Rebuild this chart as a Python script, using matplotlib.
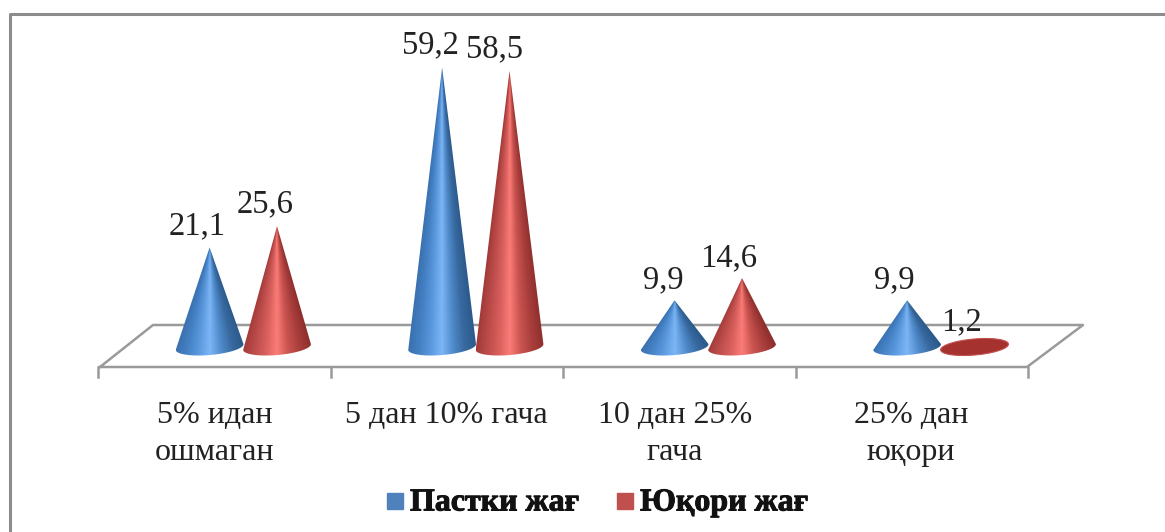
import numpy as np
import matplotlib
matplotlib.use("Agg")
import matplotlib.pyplot as plt
import matplotlib.patheffects as pe
from matplotlib.colors import LinearSegmentedColormap
from matplotlib.patches import Polygon, Rectangle

categories = ["5% идан\nошмаган", "5 дан 10% гача", "10 дан 25%\nгача", "25% дан\nюқори"]
series_names = ["Пастки жағ", "Юқори жағ"]
lower_side = [21.1, 59.2, 9.9, 9.9]
upper_side = [25.6, 58.5, 14.6, 1.2]
legend_colors = ["#4f81bd", "#c0504d"]

plt.rcParams["font.family"] = ["Liberation Serif", "DejaVu Serif"]

# one category = 232.5 px, one percent = 4.72 px
PX_X = 232.5
PX_Y = 4.72
X0 = 98
Y0 = 347
W, H = 1165, 532


def px(x, y):
    return (x - X0) / PX_X, (Y0 - y) / PX_Y


blue_cm = LinearSegmentedColormap.from_list("b", ["#3a70ad", "#4480c4", "#5a97dc", "#7db6f6", "#4f8aca", "#38699f", "#2c5a8c"])
red_cm = LinearSegmentedColormap.from_list("r", ["#a23a38", "#bb4c4a", "#d85f5c", "#fb7c78", "#c9534f", "#a83e3c", "#8f2f2d"])


def cone(ax, cx, val, cmap, half_w=34, half_h=8, tilt=-5):
    # rim built in pixels round the base, then put on the data scales
    a = np.radians(tilt)
    flat = val < 3
    t = np.linspace(0, 2 * np.pi if flat else np.pi, 120)
    if flat:
        half_h = 8
    ex = half_w * np.cos(t)
    ey = half_h * np.sin(t)
    rx = (ex * np.cos(a) - ey * np.sin(a)) / PX_X + cx
    ry = -(ex * np.sin(a) + ey * np.cos(a)) / PX_Y
    if flat:
        ax.add_patch(Polygon(np.column_stack([rx, ry]), fc="#a5322f", ec="#c2504e", lw=0.8, zorder=3))
        return
    outline = np.vstack([np.column_stack([rx, ry]), [cx, val]])
    clip = Polygon(outline, fc="none", ec="none", zorder=3)
    ax.add_patch(clip)
    # shading runs along the rim, so it narrows up to the apex
    x_lo, x_hi = rx.min(), rx.max()
    y_lo, y_hi = ry.min(), val
    xs = np.linspace(x_lo, x_hi, 200)
    ys = np.linspace(y_lo, y_hi, 300)
    gx, gy = np.meshgrid(xs, ys)
    span = np.maximum((val - gy) / val, 0.01) * (half_w / PX_X)
    u = np.clip((gx - cx) / span, -1, 1)
    im = ax.imshow((u + 1) / 2, cmap=cmap, vmin=0, vmax=1, origin="lower", aspect="auto",
                   extent=[x_lo, x_hi, y_lo, y_hi], zorder=3, interpolation="bilinear")
    im.set_clip_path(clip)


fig = plt.figure(figsize=(W / 100, H / 100), dpi=100)
ax = fig.add_axes([0, 0, 1, 1])
ax.axis("off")

# outer frame
ax.plot(*zip(px(10, H), px(10, 14), px(W, 14)), color="#8c8c8c", lw=2.2, zorder=1)

# floor
floor = [px(100, 367), px(153, 325), px(1083, 325), px(1027, 367), px(100, 367)]
ax.plot(*zip(*floor), color="#9a9a9a", lw=1.8, zorder=2)

n = len(categories)
for i in range(n + 1):
    ax.plot([i, i], [px(0, 367)[1], px(0, 377)[1]], color="#9a9a9a", lw=1.8, zorder=2)

offs = [0.48, 0.77]
# hand placed data labels (pixel centres) as in the original
lab_x_low = [197, 430, 663, 894]
lab_x_up = [265, 495, 729, 962]
lab_y_low = [226, 45, 280, 280]
lab_y_up = [204, 49, 258, 322]
cat_x = [215, 446, 675, 911]

for i, cat in enumerate(categories):
    cone(ax, i + offs[0], lower_side[i], blue_cm)
    cone(ax, i + offs[1], upper_side[i], red_cm)
    ax.text(*px(lab_x_low[i], lab_y_low[i]), f"{lower_side[i]}".replace(".", ","),
            ha="center", va="center", fontsize=23.5, color="#222222", zorder=4)
    ax.text(*px(lab_x_up[i], lab_y_up[i]), f"{upper_side[i]}".replace(".", ","),
            ha="center", va="center", fontsize=23.5, color="#222222", zorder=4)
    ax.text(*px(cat_x[i], 401), cat, ha="center", va="top", fontsize=23,
            color="#222222", linespacing=1.35)

# legend
ax.add_patch(Rectangle(px(387, 509), 16 / PX_X, 16 / PX_Y, color=legend_colors[0]))
ax.add_patch(Rectangle(px(617, 509), 16 / PX_X, 16 / PX_Y, color=legend_colors[1]))
thick = [pe.withStroke(linewidth=0.7, foreground="#111111")]
ax.text(*px(410, 503), series_names[0], fontsize=23, fontweight="bold", va="center",
        color="#111111", path_effects=thick)
ax.text(*px(640, 503), series_names[1], fontsize=23, fontweight="bold", va="center",
        color="#111111", path_effects=thick)

ax.set_xlim(px(0, 0)[0], px(W, 0)[0])
ax.set_ylim(px(0, H)[1], px(0, 0)[1])

fig.savefig("out.png", dpi=100)
